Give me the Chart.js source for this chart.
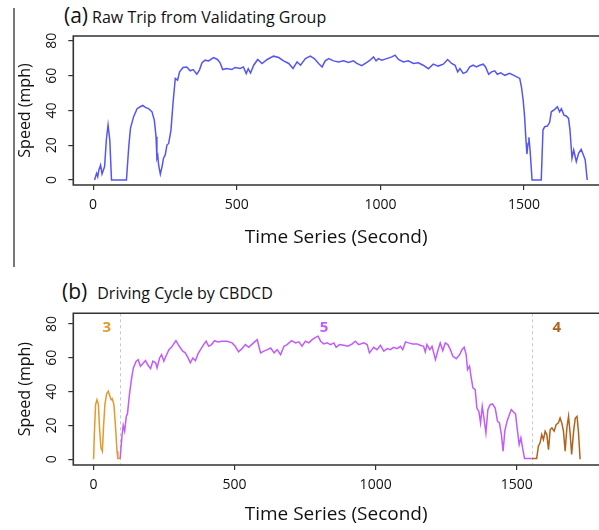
<!DOCTYPE html>
<html>
<head>
<meta charset="utf-8">
<script src="https://cdn.jsdelivr.net/npm/chart.js@4.4.1/dist/chart.umd.min.js"></script>
<style>
body { margin: 0; background: #fff; }
#wrap { position: relative; width: 599px; height: 530px; overflow: hidden; font-family: "Open Sans", sans-serif; }
#wrap canvas { position: absolute; left: 0; }
.ttl { position: absolute; white-space: nowrap; color: #111; font-size: 16px; line-height: 20px; }
.ttl span { font-size: 21px; margin-right: 4px; }
#sep { position: absolute; left: 13px; top: 8px; width: 1.5px; height: 259px; background: #777; }
</style>
</head>
<body>
<div id="wrap">
  <div id="sep"></div>
  <div class="ttl" style="left:64px;top:5px"><span>(a)</span>Raw Trip from Validating Group</div>
  <div class="ttl" style="left:62px;top:281px"><span style="margin-right:10px">(b)</span>Driving Cycle by CBDCD</div>
  <canvas id="chartA" width="599" height="265" style="top:0"></canvas>
  <canvas id="chartB" width="599" height="265" style="top:265px"></canvas>
</div>
<script>
// (a) raw trip, seconds and mph
const rawTime = [5, 12, 16, 20, 26, 31, 40, 46, 52, 58, 64, 116, 124, 130, 141, 153, 164, 173, 182, 193, 205, 213, 219, 222, 225, 228, 234, 240, 245, 251, 257, 263, 271, 278, 286, 294, 301, 313, 326, 338, 348, 361, 370, 379, 390, 402, 419, 433, 442, 451, 465, 483, 494, 512, 523, 533, 540, 548, 559, 573, 588, 606, 628, 646, 663, 681, 696, 710, 722, 739, 756, 770, 785, 797, 808, 820, 837, 854, 872, 889, 906, 918, 935, 953, 964, 976, 985, 993, 1005, 1022, 1040, 1051, 1063, 1080, 1097, 1115, 1132, 1149, 1167, 1184, 1201, 1219, 1234, 1248, 1260, 1269, 1277, 1288, 1300, 1311, 1323, 1334, 1346, 1358, 1366, 1377, 1387, 1398, 1407, 1419, 1433, 1450, 1468, 1485, 1491, 1497, 1502, 1506, 1510, 1514, 1517, 1521, 1528, 1560, 1566, 1572, 1581, 1589, 1595, 1607, 1616, 1624, 1630, 1639, 1647, 1655, 1660, 1667, 1673, 1682, 1690, 1699, 1709, 1713, 1720];
const rawSpeed = [0, 3.8, 1.9, 5.7, 8.6, 3.4, 7.7, 23, 31.6, 23, 0, 0, 19, 29.7, 36.4, 41, 42.1, 42.9, 41.7, 41, 39.2, 34.4, 24.9, 12.5, 14, 8.6, 3.4, 7.7, 12.5, 14.4, 20.1, 21, 28.7, 44, 58.4, 57.4, 62.2, 64.7, 65, 62.8, 63.5, 60.8, 63.2, 67.4, 68.9, 68.5, 70.4, 69.3, 67.4, 63.5, 64.1, 63.5, 64.7, 64.1, 65, 61.2, 64, 61.5, 66, 69.3, 67, 69.3, 71.2, 70.4, 68.5, 67, 64.1, 67.9, 66, 69.8, 71.2, 69.8, 67, 65, 68.5, 69.8, 68.5, 67.9, 68.5, 67.6, 68.5, 67, 65.7, 67.6, 68.9, 70.8, 68.5, 69.8, 68.9, 69.8, 70.8, 71.8, 69.3, 67.9, 68.5, 67, 67.4, 66, 64, 66.6, 65.5, 66.6, 69.3, 67, 66, 62.2, 64.1, 61.3, 62.2, 65, 66, 65, 66, 66.6, 65, 60.8, 62.2, 62.8, 60.8, 61.6, 60.2, 61.3, 59.9, 58.4, 53.6, 46, 36.4, 24.9, 14.9, 21, 24.5, 17.2, 0, 0, 28.7, 30.6, 31, 33, 39.2, 40.6, 42.1, 39.2, 41, 37.3, 36.8, 35.4, 28.7, 12.5, 17.2, 10.5, 15.3, 17.6, 13.4, 11.5, 0];

// (b) driving cycle built from clusters 3, 5 and 4
const c3Time = [0, 2.5, 7, 12, 17, 21, 26, 31, 35, 40, 46, 52, 58, 62, 66, 72, 78, 83, 86, 94];
const c3Speed = [0, 14.5, 32.3, 35.2, 32.3, 18.5, 6.7, 4.7, 18.5, 32.3, 38.6, 40.2, 37.2, 35.2, 35.8, 32.3, 18.5, 4.7, 0.4, 0.4];
const c5Time = [94, 97, 101, 105, 110, 116, 120, 127, 134, 141, 151, 158, 166, 174, 184, 193, 202, 210, 220, 225, 234, 241, 249, 258, 267, 276, 284, 292, 300, 308, 316, 325, 335, 343, 352, 361, 370, 379, 390, 399, 408, 418, 429, 441, 455, 473, 491, 502, 514, 526, 538, 550, 563, 580, 592, 604, 616, 628, 640, 651, 663, 675, 686, 702, 716, 728, 739, 751, 763, 775, 787, 796, 805, 816, 828, 840, 852, 860, 872, 887, 902, 917, 928, 940, 958, 970, 978, 993, 1005, 1017, 1029, 1041, 1052, 1064, 1076, 1088, 1096, 1106, 1117, 1131, 1147, 1158, 1170, 1176, 1182, 1192, 1200, 1212, 1220, 1229, 1238, 1247, 1256, 1265, 1274, 1286, 1298, 1306, 1314, 1321, 1326, 1333, 1339, 1345, 1353, 1359, 1366, 1372, 1378, 1384, 1391, 1398, 1406, 1414, 1424, 1432, 1439, 1446, 1452, 1458, 1466, 1475, 1481, 1489, 1496, 1503, 1509, 1515, 1521, 1528, 1553];
const c5Speed = [0.4, 0.4, 14.5, 20.1, 16.6, 25.4, 26.8, 38.2, 47.1, 54, 58, 58.9, 55, 56.4, 58.3, 55.6, 53.6, 58, 57, 54, 59.9, 61.9, 58, 61.5, 64.8, 66.2, 68.2, 70.1, 67.8, 65.8, 63.9, 62.9, 59.9, 57, 59.9, 58.3, 62.3, 64.8, 67.8, 69.8, 66.8, 67.8, 70.1, 69.4, 69.8, 69.8, 68.8, 66.8, 63.5, 65.4, 67.8, 66.2, 68.2, 70.7, 62.9, 63.9, 64.8, 65.8, 62.9, 64.8, 61.9, 66.8, 67.8, 70.1, 68.8, 69.4, 66.8, 69.8, 68.8, 70.7, 72.1, 72.8, 69.8, 68.2, 68.8, 67.8, 68.8, 66.2, 67.8, 67.4, 66.8, 68.2, 69.8, 67.8, 68.8, 67.8, 62.9, 66.2, 64.8, 67.4, 63.9, 65.4, 64.8, 66.2, 65.4, 66.8, 64.8, 69.4, 68.8, 68.2, 68.2, 67.4, 66.8, 63.5, 67.8, 64.8, 66.8, 58.9, 63.9, 68.8, 64.3, 68.8, 67.8, 64.8, 60.9, 59.5, 61.9, 64.8, 66.2, 61.9, 53, 55, 48.1, 42.2, 41.2, 30.3, 28.3, 21.5, 31.3, 24.4, 15.6, 29.3, 32.3, 32.7, 30.3, 22.5, 21.5, 14.6, 4.7, 16.6, 22.5, 26.8, 29.3, 27.9, 26.8, 16.6, 8.7, 12.6, 6.7, 0.4, 0.4];
const c4Time = [1553, 1571, 1577, 1583, 1589, 1595, 1601, 1607, 1613, 1619, 1625, 1633, 1640, 1648, 1654, 1660, 1666, 1672, 1678, 1684, 1690, 1695, 1702, 1708, 1714, 1719, 1725];
const c4Speed = [0.4, 0.4, 7.7, 9.7, 14.6, 11.6, 16.6, 14.6, 5.7, 17.6, 18.5, 16.6, 20.5, 21.5, 24.4, 21.5, 16.6, 4.7, 18.5, 25.4, 14.6, 2.8, 16.6, 24.4, 25.4, 16.6, 0];

// cluster numbers and where their segments split
const clusterLabels = ['3', '5', '4'];
const clusterLabelTime = [47, 817, 1642];
const clusterLabelSpeed = [77.5, 78, 77.5];
const clusterColors = ['#e3992b', '#bf5cff', '#b0631f'];
const splitTimes = [94, 1553];

const xTicks = [0, 500, 1000, 1500];
const yTicks = [0, 20, 40, 60, 80];

const toPoints = (xs, ys) => xs.map((x, i) => ({x: x, y: ys[i]}));

const boxPlugin = {
  id: 'box',
  beforeDatasetsDraw(chart) {
    const {ctx, chartArea: a, scales} = chart;
    const splits = chart.options.plugins.box.splits || [];
    ctx.save();
    ctx.strokeStyle = '#c8c8c8';
    ctx.lineWidth = 1;
    ctx.setLineDash([3, 3]);
    splits.forEach(t => {
      const x = Math.round(scales.x.getPixelForValue(t)) + 0.5;
      ctx.beginPath();
      ctx.moveTo(x, a.top);
      ctx.lineTo(x, a.bottom);
      ctx.stroke();
    });
    ctx.restore();
  },
  afterDraw(chart) {
    const {ctx, chartArea: a, scales} = chart;
    const o = chart.options.plugins.box;
    ctx.save();
    ctx.strokeStyle = '#333';
    ctx.lineWidth = 1.6;
    ctx.beginPath();
    ctx.moveTo(a.right + 2, a.top);
    ctx.lineTo(a.left, a.top);
    ctx.lineTo(a.left, a.bottom);
    ctx.lineTo(a.right + 2, a.bottom);
    ctx.stroke();
    if (o.labels) {
      ctx.font = 'bold 15px "Open Sans"';
      ctx.textAlign = 'center';
      ctx.textBaseline = 'middle';
      o.labels.forEach((s, i) => {
        ctx.fillStyle = clusterColors[i];
        ctx.fillText(s, scales.x.getPixelForValue(clusterLabelTime[i]), scales.y.getPixelForValue(clusterLabelSpeed[i]));
      });
    }
    ctx.restore();
  }
};

function makeChart(id, datasets, g) {
  return new Chart(document.getElementById(id), {
    type: 'line',
    data: {datasets: datasets},
    options: {
      responsive: false,
      animation: false,
      layout: {padding: {left: 15.4, top: g.top, right: 0, bottom: g.bottom}},
      elements: {point: {radius: 0}, line: {borderWidth: 1.5, tension: 0}},
      plugins: {legend: {display: false}, tooltip: {enabled: false}, box: {splits: g.splits, labels: g.labels}},
      scales: {
        x: {
          type: 'linear', min: g.xMin, max: g.xMax,
          afterBuildTicks: s => { s.ticks = xTicks.map(v => ({value: v})); },
          afterFit: s => { s.height = g.xAxisH; },
          grid: {drawOnChartArea: false, tickLength: 5, color: '#333', lineWidth: 1.2},
          border: {display: false},
          ticks: {color: '#111', font: {family: 'Open Sans', size: 14}, padding: 7, callback: v => String(v), maxRotation: 0},
          title: {display: true, text: 'Time Series (Second)', color: '#111', font: {family: 'Open Sans', size: 19}, padding: 0}
        },
        y: {
          min: g.yMin, max: g.yMax,
          afterBuildTicks: s => { s.ticks = yTicks.map(v => ({value: v})); },
          afterFit: s => { s.width = 57.9; },
          grid: {drawOnChartArea: false, tickLength: 5, color: '#333', lineWidth: 1.2},
          border: {display: false},
          ticks: {color: '#111', font: {family: 'Open Sans', size: 14}, padding: 8, minRotation: 90, maxRotation: 90, crossAlign: 'center', callback: v => String(v)},
          title: {display: true, text: 'Speed (mph)', color: '#111', font: {family: 'Open Sans', size: 16}, padding: 0}
        }
      }
    },
    plugins: [boxPlugin]
  });
}

makeChart('chartA', [
  {data: toPoints(rawTime, rawSpeed), borderColor: '#5555f5'}
], {top: 36, bottom: 16.5, xAxisH: 63.5, xMin: -69, xMax: 1761, yMin: -2.9, yMax: 82.8});

makeChart('chartB', [
  {data: toPoints(c3Time, c3Speed), borderColor: clusterColors[0]},
  {data: toPoints(c5Time, c5Speed), borderColor: clusterColors[1]},
  {data: toPoints(c4Time, c4Speed), borderColor: clusterColors[2]}
], {top: 48.3, bottom: 3.6, xAxisH: 61.4, xMin: -72, xMax: 1792, yMin: -3.4, yMax: 86.3, splits: splitTimes, labels: clusterLabels});
</script>
</body>
</html>
